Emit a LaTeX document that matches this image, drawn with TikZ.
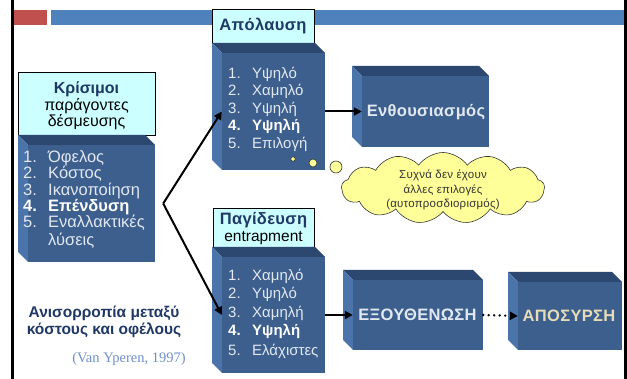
\documentclass[tikz,border=0pt]{standalone}
\usepackage{fontspec}
\setmainfont{Liberation Sans}
\newfontfamily\refserif{Liberation Serif}
\usetikzlibrary{arrows.meta,shapes.symbols,fit}
\definecolor{cubefrontc}{HTML}{3C5F8E}
\definecolor{cubetopc}{HTML}{2D4870}
\definecolor{cubesidec}{HTML}{4A74AA}
\definecolor{hdrfill}{HTML}{CCFFFF}
\definecolor{navy}{HTML}{1F3864}
\definecolor{listtext}{HTML}{E2E8F0}
\definecolor{bubblefill}{HTML}{FFFF99}
\definecolor{barblue}{HTML}{4F81BD}
\definecolor{barred}{HTML}{C0504D}
\definecolor{beigetext}{HTML}{E6DDB8}
\definecolor{refblue}{HTML}{6F90C8}
\tikzset{
  cubetop/.style={fill=cubetopc},
  cubeside/.style={fill=cubesidec},
  cubefront/.style={fill=cubefrontc, inner sep=0pt, draw=none},
  hdrbox/.style={draw=black, line width=0.8pt, fill=hdrfill, inner sep=0pt, anchor=north west},
  listitem/.style={anchor=mid west, inner sep=0pt, text=listtext, font=\fontsize{15}{17}\selectfont},
  llistitem/.style={anchor=mid west, inner sep=0pt, text=listtext, font=\fontsize{16.5}{17}\selectfont},
  bigtitle/.style={inner sep=0pt, font=\bfseries\fontsize{16.5}{18}\selectfont\addfontfeature{LetterSpace=2}},
  conn/.style={line width=2pt, -{Triangle[length=8pt,width=8pt]}},
  dotconn/.style={line width=2.6pt, line cap=round, dash pattern=on 0pt off 5.5pt, -{Triangle[length=8pt,width=8pt]}},
  bubble/.style={draw=black!80, line width=0.6pt, fill=bubblefill},
}
\newcommand{\cubebox}[5]{%
  \fill[cubetop] (#2,#3) -- (#4-10,#3) -- (#4,#3+10) -- (#2+10,#3+10) -- cycle;
  \fill[cubeside] (#2,#3) -- (#2+10,#3+10) -- (#2+10,#5) -- (#2,#5-10) -- cycle;
  \node[cubefront, fit={(#2+10,#3+10) (#4,#5)}] (#1) {};
}
\begin{document}
\begin{tikzpicture}[x=1pt, y=-1pt]
\useasboundingbox (0,0) rectangle (627,379);
% frame lines and top bars
\fill[barred] (13,10) rectangle (47,25);
\fill[barblue] (51,10) rectangle (625,25);
\draw[line width=2.5pt] (12.5,0) -- (12.5,379);
\draw[line width=2.5pt] (625.5,0) -- (625.5,379);

% left block
\node[hdrbox, minimum width=137pt, minimum height=63pt] (lhdr) at (18,72) {};
\node[align=center, inner sep=0pt, font=\fontsize{16}{16.5}\selectfont] (lhdrtext) at (86.5,106)
  {\textcolor{navy}{\bfseries Κρίσιμοι}\\ παράγοντες\\ δέσμευσης};
\cubebox{lbox}{18}{135}{155}{262}
\node[llistitem] (l1) at (23,160) {\makebox[25pt][l]{1.}Όφελος};
\node[llistitem] (l2) at (23,176) {\makebox[25pt][l]{2.}Κόστος};
\node[llistitem] (l3) at (23,193) {\makebox[25pt][l]{3.}Ικανοποίηση};
\node[llistitem, text=white, font=\bfseries\fontsize{16.5}{17}\selectfont] (l4) at (23,209) {\makebox[25pt][l]{4.}Επένδυση};
\node[llistitem] (l5) at (23,225) {\makebox[25pt][l]{5.}Εναλλακτικές};
\node[llistitem] (l6) at (48,243) {λύσεις};

% top middle block
\node[hdrbox, minimum width=102pt, minimum height=34pt] (thdr) at (212,9) {};
\node[bigtitle, text=navy] (thdrtext) at (263,26) {Απόλαυση};
\cubebox{tbox}{212}{43}{325}{170}
\node[listitem] (t1) at (228,76) {\makebox[24pt][l]{1.}Υψηλό};
\node[listitem] (t2) at (228,93) {\makebox[24pt][l]{2.}Χαμηλό};
\node[listitem] (t3) at (228,111) {\makebox[24pt][l]{3.}Υψηλή};
\node[listitem, text=white, font=\bfseries\fontsize{15}{17}\selectfont] (t4) at (228,128) {\makebox[24pt][l]{4.}Υψηλή};
\node[listitem] (t5) at (228,146) {\makebox[24pt][l]{5.}Επιλογή};

% bottom middle block
\node[hdrbox, minimum width=101pt, minimum height=39pt] (bhdr) at (213,208) {};
\node[bigtitle, text=navy] (bhdrtext) at (263.5,220) {Παγίδευση};
\node[inner sep=0pt, font=\fontsize{15.5}{16}\selectfont] (bhdrsub) at (263.5,238) {entrapment};
\cubebox{bbox}{212}{247}{325}{373}
\node[listitem] (b1) at (228,278) {\makebox[24pt][l]{1.}Χαμηλό};
\node[listitem] (b2) at (228,296) {\makebox[24pt][l]{2.}Υψηλό};
\node[listitem] (b3) at (228,315) {\makebox[24pt][l]{3.}Χαμηλή};
\node[listitem, text=white, font=\bfseries\fontsize{15}{17}\selectfont] (b4) at (228,333) {\makebox[24pt][l]{4.}Υψηλή};
\node[listitem] (b5) at (228,353) {\makebox[24pt][l]{5.}Ελάχιστες};

% outcome boxes
\cubebox{enth}{352}{66}{489}{147}
\node[bigtitle, text=listtext] (enthtext) at (426,112) {Ενθουσιασμός};
\cubebox{exo}{343}{270}{483}{350}
\node[bigtitle, text=listtext] (exotext) at (417.5,315) {ΕΞΟΥΘΕΝΩΣΗ};
\cubebox{apo}{508}{272}{622}{350}
\node[bigtitle, text=beigetext] (apotext) at (569,316) {ΑΠΟΣΥΡΣΗ};

% thought bubble
\node[bubble, circle, minimum size=4.5pt, inner sep=0pt] (dot1) at (293,159) {};
\node[bubble, circle, minimum size=8pt, inner sep=0pt] (dot2) at (313,163) {};
\node[bubble, circle, minimum size=12pt, inner sep=0pt] (dot3) at (336,167) {};
\node[bubble, cloud, cloud puffs=13, cloud puff arc=110, aspect=2.9,
      minimum width=203pt, minimum height=71pt, inner sep=0pt] (cloud) at (443,188) {};
\node[align=center, inner sep=0pt, text=black!80, font=\fontsize{11.5}{14.5}\selectfont\addfontfeature{LetterSpace=2}] (cloudtext) at (443,190)
  {Συχνά δεν έχουν\\ άλλες επιλογές\\ (αυτοπροσδιορισμός)};

% connectors
\coordinate (fork) at ([xshift=8pt]lbox.east);
\draw[conn] (fork) -- (tbox.west);
\draw[conn] (fork) -- (bbox.west);
\draw[conn] (tbox.east) -- (enth.west);
\draw[conn] (bbox.east) -- (exo.west);
\draw[dotconn] (exo.east) -- (apo.west);

% bottom-left texts
\node[align=center, inner sep=0pt, text=navy, font=\bfseries\fontsize{15.5}{17}\selectfont] (imbalance) at (104,321.5)
  {Ανισορροπία μεταξύ\\ κόστους και οφέλους};
\node[inner sep=0pt, text=refblue, font=\refserif\fontsize{14.5}{15}\selectfont] (cite) at (129,359) {(Van Yperen, 1997)};
\end{tikzpicture}
\end{document}
